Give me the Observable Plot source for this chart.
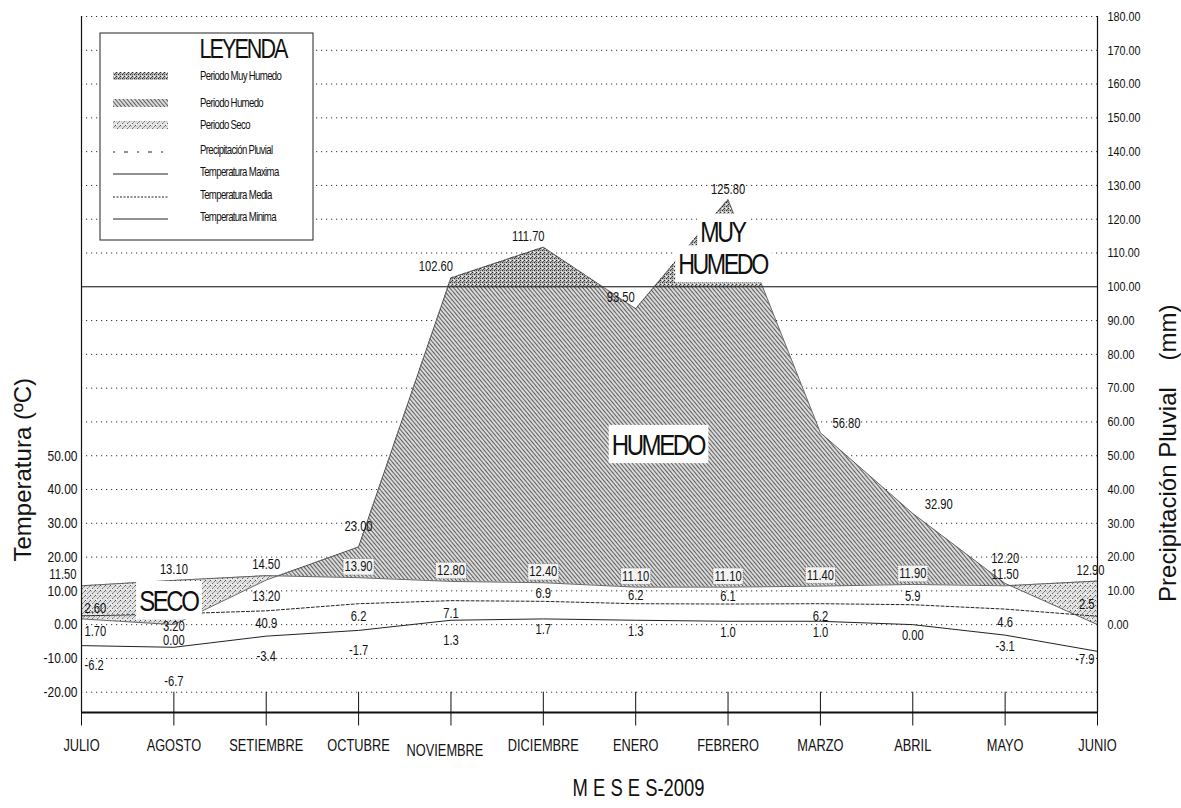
<!DOCTYPE html>
<html><head><meta charset="utf-8">
<script src="https://cdn.jsdelivr.net/npm/d3@7"></script>
<script src="https://cdn.jsdelivr.net/npm/@observablehq/plot@0.6"></script>
<style>
body{margin:0;background:#fff;}
#chart{position:relative;width:1181px;height:808px;overflow:hidden;background:#fff;}
</style></head><body><div id="chart"></div>
<script>
// ---- data ----
const months = ["JULIO","AGOSTO","SETIEMBRE","OCTUBRE","NOVIEMBRE","DICIEMBRE","ENERO","FEBRERO","MARZO","ABRIL","MAYO","JUNIO"];
const precip = [1.70, 0.00, 13.20, 23.00, 102.60, 111.70, 93.50, 125.80, 56.80, 32.90, 12.20, 0.00];
const tmax   = [11.50, 13.10, 14.50, 13.90, 12.80, 12.40, 11.10, 11.10, 11.40, 11.90, 11.50, 12.90];
const tmean  = [2.60, 3.20, 4.09, 6.2, 7.1, 6.9, 6.2, 6.1, 6.2, 5.9, 4.6, 2.5];
const tmin   = [-6.2, -6.7, -3.4, -1.7, 1.3, 1.7, 1.3, 1.0, 1.0, 0.00, -3.1, -7.9];
const precipLabels = ["1.70","0.00","13.20","23.00","102.60","111.70","93.50","125.80","56.80","32.90","12.20",""];
const tmaxLabels   = ["11.50","13.10","14.50","13.90","12.80","12.40","11.10","11.10","11.40","11.90","11.50","12.90"];
const tmeanLabels  = ["2.60","3.20","40.9","6.2","7.1","6.9","6.2","6.1","6.2","5.9","4.6","2.5"];
const tminLabels   = ["-6.2","-6.7","-3.4","-1.7","1.3","1.7","1.3","1.0","1.0","0.00","-3.1","-7.9"];
const leftTicks  = [-20,-10,0,10,20,30,40,50];
const rightTicks = [0,10,20,30,40,50,60,70,80,90,100,110,120,130,140,150,160,170,180];
const gridTicks  = [-20,-10,0,10,20,30,40,50,60,70,80,90,110,120,130,140,150,160,170,180];
const umbral = 100;
const legendItems = ["Periodo Muy Humedo","Periodo Humedo","Periodo Seco","Precipitación Pluvial","Temperatura Maxima","Temperatura Media","Temperatura Minima"];

const rows = months.map((m,i)=>({i, month:m, p:precip[i], tmax:tmax[i], tmean:tmean[i], tmin:tmin[i],
  pl:precipLabels[i], xl:tmaxLabels[i], ml:tmeanLabels[i], nl:tminLabels[i]}));
const sel = idx => rows.filter(r => idx.includes(r.i));

const FONT = '"Liberation Sans",Arial,sans-serif';
// marker colours used to find groups after rendering
const C_HUM = "#9b9b9b", C_SECO = "#c9c9c9", C_MUY = "#8a8a8a", C_CLIP = "#fefefe";
const C_BOX = "#121212", C_BIG = "#101010", C_TITLE = "#131313";
const T = (data, y, text, o) => Plot.text(data, {x:"i", y, text, fontSize:14, fill:"#111", ...o});

const svg = Plot.plot({
  width:1181, height:808,
  marginLeft:81, marginRight:84, marginTop:16, marginBottom:96,
  x:{type:"linear", domain:[0,11], axis:null},
  y:{domain:[-26,180], axis:null},
  style:{fontFamily:FONT, background:"white", color:"#111"},
  marks:[
    Plot.ruleY(gridTicks, {x1:0, x2:11, stroke:"#333", strokeWidth:1, strokeDasharray:"1.2,3.8"}),
    Plot.areaY(rows, {x:"i", y1:"tmax", y2:"p", fill:C_HUM}),
    Plot.areaY(rows, {x:"i", y1:"tmax", y2:"p", fill:C_SECO}),
    Plot.areaY(rows, {x:"i", y1:umbral, y2:"p", fill:C_MUY}),
    Plot.areaY(rows, {x:"i", y1:"tmax", y2:-26, fill:C_CLIP, fillOpacity:0}),
    Plot.ruleY([umbral], {x1:0, x2:11, stroke:"#111", strokeWidth:1}),
    Plot.lineY(rows, {x:"i", y:"p", stroke:"#444", strokeWidth:0.8}),
    Plot.lineY(rows, {x:"i", y:"tmax", stroke:"#444", strokeWidth:0.8}),
    Plot.lineY(rows, {x:"i", y:"tmean", stroke:"#222", strokeWidth:1, strokeDasharray:"3,2"}),
    Plot.lineY(rows, {x:"i", y:"tmin", stroke:"#222", strokeWidth:1}),
    // frame
    Plot.ruleX([0, 11], {y1:-26, y2:180, stroke:"#111", strokeWidth:1.2}),
    Plot.ruleY([-26], {x1:0, x2:11, stroke:"#111", strokeWidth:2}),
    Plot.ruleX(rows, {x:"i", y1:-20, y2:-30, stroke:"#111", strokeWidth:1}),
    // axes
    Plot.axisY(leftTicks, {anchor:"left", tickSize:0, tickPadding:4, tickFormat:d=>d.toFixed(2), fontSize:15, label:null}),
    Plot.axisY(rightTicks, {anchor:"right", tickSize:0, tickPadding:10, tickFormat:d=>d.toFixed(2), fontSize:13.5, label:null}),
    Plot.text(rows.filter(r => r.i !== 4), {x:"i", y:-26, text:"month", dy:33, fontSize:16, fill:"#111"}),
    Plot.text(sel([4]), {x:"i", y:-26, text:"month", dx:-6, dy:38, fontSize:16, fill:"#111"}),
    Plot.text(["M E S E S-2009"], {frameAnchor:"bottom", dx:49, dy:83, fontSize:23, fill:"#111"}),
    Plot.text(["Temperatura (ºC)"], {frameAnchor:"left", rotate:-90, dx:-58, dy:197, fontSize:24, fill:C_TITLE}),
    Plot.text(["Precipitación Pluvial\u00a0\u00a0\u00a0\u00a0(mm)"], {frameAnchor:"right", rotate:-90, dx:71, dy:-60, fontSize:24, fill:C_TITLE}),
    // precipitation labels
    T(sel([0]), "p", "pl", {textAnchor:"start", dx:3, dy:13}),
    T(sel([1,2]), "p", "pl", {dy:16}),
    T(sel([3]), "p", "pl", {dy:-20}),
    T(sel([10]), "p", "pl", {dy:-25}),
    T(sel([4,5,6]), "p", "pl", {dx:-15, dy:-11}),
    T(sel([7]), "p", "pl", {dy:-10}),
    T(sel([8,9]), "p", "pl", {dx:26, dy:-9}),
    // max temperature labels
    T(sel([0]), "tmax", "xl", {textAnchor:"end", dx:-5, dy:-11}),
    T(sel([1,2,10]), "tmax", "xl", {dy:-11}),
    T(sel([11]), "tmax", "xl", {dx:-7, dy:-11}),
    T(sel([3,4,5,6,7,8,9]), "tmax", "xl", {dy:-11, fill:C_BOX}),
    // mean temperature labels
    T(sel([0]), "tmean", "ml", {textAnchor:"start", dx:3, dy:-7}),
    T(sel([5,6,7,9]), "tmean", "ml", {dy:-8}),
    T(sel([11]), "tmean", "ml", {textAnchor:"end", dx:-3, dy:-12}),
    T(sel([1,2,3,4,8,10]), "tmean", "ml", {dy:13}),
    // min temperature labels
    T(sel([0]), "tmin", "nl", {textAnchor:"start", dx:3, dy:20}),
    T(sel([2,3,4]), "tmin", "nl", {dy:20}),
    T(sel([1]), "tmin", "nl", {dy:34}),
    T(sel([5,6,7,8,9,10]), "tmin", "nl", {dy:11}),
    T(sel([11]), "tmin", "nl", {textAnchor:"end", dx:-3, dy:8}),
    // period annotations
    Plot.text([{x:0.94, y:7.0, t:"SECO"}], {x:"x", y:"y", text:"t", fontSize:30, fill:C_BIG}),
    Plot.text([{x:6.24, y:53.2, t:"HUMEDO"}], {x:"x", y:"y", text:"t", fontSize:30, fill:C_BIG}),
    Plot.text([{x:6.94, y:116.0, t:"MUY"}], {x:"x", y:"y", text:"t", fontSize:29, fill:C_BIG}),
    Plot.text([{x:6.94, y:106.6, t:"HUMEDO"}], {x:"x", y:"y", text:"t", fontSize:29, fill:C_BIG})
  ]
});
document.getElementById("chart").appendChild(svg);
const s = d3.select(svg);
const q = sel => svg.querySelector(sel);

// ---- patterns ----
const defs = s.insert("defs", ":first-child");
function pat(id, w, h, bg, dots, tr){
  const p = defs.append("pattern").attr("id", id).attr("patternUnits","userSpaceOnUse").attr("width", w).attr("height", h);
  if (tr) p.attr("patternTransform", tr);
  p.append("rect").attr("width", w).attr("height", h).attr("fill", bg);
  dots.forEach(([x,y,dw,dh,c]) => p.append("rect").attr("x",x).attr("y",y).attr("width",dw).attr("height",dh).attr("fill",c));
}
pat("pHum", 3, 3, "#dadada", [[0,0,1,3,"#5e5e5e"]], "rotate(-40)");
pat("pMuy", 4, 4, "#b4b4b4", [[0,0,1,1,"#2a2a2a"],[2,2,1,1,"#2a2a2a"],[2,0,1,1,"#ffffff"],[0,2,1,1,"#666"],[1,3,1,1,"#e4e4e4"],[3,1,1,1,"#555"]]);
pat("pSeco", 5, 5, "#e2e2e2", [[0,0,1,1,"#4a4a4a"],[2,3,1,1,"#6a6a6a"],[4,1,1,1,"#7a7a7a"],[1,4,1,1,"#fff"],[3,2,1,1,"#9a9a9a"],[1,1,1,1,"#bbb"]]);

const gHum = q(`g[fill="${C_HUM}"]`), gSeco = q(`g[fill="${C_SECO}"]`), gMuy = q(`g[fill="${C_MUY}"]`), gClip = q(`g[fill="${C_CLIP}"]`);
if (gHum) gHum.setAttribute("fill","url(#pHum)");
if (gSeco) gSeco.setAttribute("fill","url(#pSeco)");
if (gMuy) gMuy.setAttribute("fill","url(#pMuy)");

// ---- clipping of the period areas ----
if (gClip && gSeco) {
  const src = gClip.querySelector("path");
  const cp = defs.append("clipPath").attr("id","cSeco").append("path").attr("d", src.getAttribute("d"));
  if (gClip.getAttribute("transform")) cp.attr("transform", gClip.getAttribute("transform"));
  gClip.remove();
  gSeco.setAttribute("clip-path","url(#cSeco)");
}
const y = svg.scale("y");
defs.append("clipPath").attr("id","cMuy").append("rect").attr("x",0).attr("y",0).attr("width",1181).attr("height", y.apply(umbral));
if (gMuy) gMuy.setAttribute("clip-path","url(#cMuy)");

// ---- narrow lettering (Arial Narrow look) ----
function condense(t, k){
  const tr = t.getAttribute("transform");
  if (tr) t.setAttribute("transform", tr + ` scale(${k},1)`);
  else { const x = +t.getAttribute("x")||0, yy = +t.getAttribute("y")||0;
    t.setAttribute("transform", `translate(${x},${yy}) scale(${k},1) translate(${-x},${-yy})`); }
}
svg.querySelectorAll("text").forEach(t => {
  const g = t.closest("g");
  if (g && g.getAttribute("fill") === C_TITLE) return;
  condense(t, 0.8);
});
svg.querySelectorAll(`g[fill="${C_BIG}"]`).forEach(g => g.style.letterSpacing = "-3px");

// ---- boxes behind boxed labels ----
function boxes(fillMarker, pad, fill, stroke, dash){
  svg.querySelectorAll(`g[fill="${fillMarker}"]`).forEach(g => {
    g.querySelectorAll("text").forEach(t => {
      const b = t.getBBox();
      const r = document.createElementNS("http://www.w3.org/2000/svg","rect");
      r.setAttribute("x", b.x - pad*1.25); r.setAttribute("y", b.y - pad + 1);
      r.setAttribute("width", b.width + 2.5*pad); r.setAttribute("height", b.height + 2*pad - 2);
      r.setAttribute("fill", fill);
      if (stroke) { r.setAttribute("stroke", stroke); r.setAttribute("stroke-dasharray", dash); r.setAttribute("stroke-width", 0.8); }
      if (t.getAttribute("transform")) r.setAttribute("transform", t.getAttribute("transform"));
      g.insertBefore(r, t);
    });
  });
}
boxes(C_BOX, 1.5, "#f3f3f3", "#555", "1,1.2");
boxes(C_BIG, 3, "#ffffff", null, null);

// ---- legend ----
const L = s.append("g").attr("font-family", FONT).attr("fill","#111").attr("text-anchor","start");
L.append("rect").attr("x",100).attr("y",33).attr("width",213).attr("height",207).attr("fill","#fff").attr("stroke","#222").attr("stroke-width",1);
const lt = L.append("text").attr("x",243).attr("y",58).attr("text-anchor","middle").attr("font-size",27).attr("letter-spacing","-2.5px").text("LEYENDA");
condense(lt.node(), 0.8);
const rowsY = [76,103,125,150,172,195,217];
const fills = ["url(#pMuy)","url(#pHum)","url(#pSeco)"];
legendItems.forEach((name,k) => {
  const yy = rowsY[k];
  if (k < 3) L.append("rect").attr("x",113).attr("y",yy-4).attr("width",55).attr("height",8).attr("fill",fills[k]);
  else {
    const dash = k===3 ? "2,9,4,9" : k===5 ? "2,1.5" : null;
    const ln = L.append("line").attr("x1",113).attr("x2",168).attr("y1",yy+2).attr("y2",yy+2).attr("stroke","#222").attr("stroke-width",1);
    if (dash) ln.attr("stroke-dasharray", dash);
  }
  const tx = L.append("text").attr("x",200).attr("y",yy+4).attr("text-anchor","start").attr("font-size",12).attr("letter-spacing","-0.8px").text(name);
  condense(tx.node(), 0.8);
});
</script></body></html>
